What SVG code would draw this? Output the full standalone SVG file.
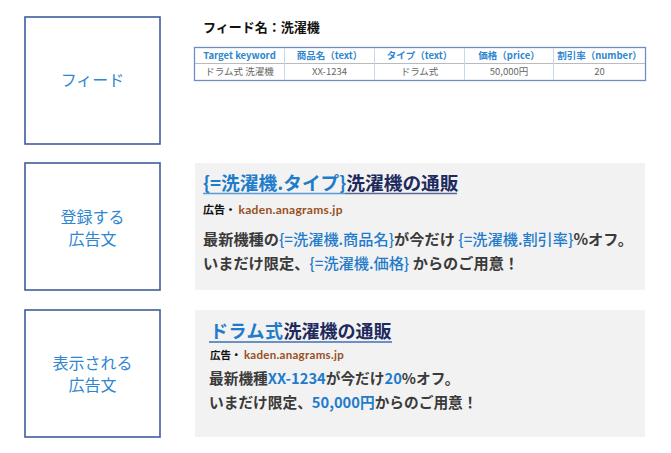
<svg xmlns="http://www.w3.org/2000/svg" width="671" height="453" viewBox="0 0 671 453">
<style>
.box{fill:#fff;stroke:#3F5E9E;stroke-width:1.6}
.lbl{font-family:"Noto Sans CJK JP","Noto Sans",sans-serif;font-size:16px;fill:#2E86D0;text-anchor:middle}
.panel{fill:#F2F2F2}
.jp{font-family:"Noto Sans CJK JP","Noto Sans",sans-serif;font-weight:bold}
.b{fill:#1F7CCB}
.n{fill:#1E2A5E}
.d{fill:#3A3A3A}
.k{fill:#111}
.br{fill:#96501E}
.th{font-family:"Noto Sans CJK JP","Noto Sans",sans-serif;font-size:9.5px;font-weight:bold;fill:#2E86D0;text-anchor:middle}
.td{font-family:"Noto Sans CJK JP","Noto Sans",sans-serif;font-size:9.5px;fill:#666;text-anchor:middle}
</style>
<rect width="671" height="453" fill="#fff"/>
<g id="node-feed">
<rect class="box" x="25" y="17" width="135" height="127"/>
<text class="lbl" x="92.5" y="86">フィード</text>
</g>
<g id="node-registered">
<rect class="box" x="25" y="163" width="135" height="127"/>
<text class="lbl" x="92.5" y="223">登録する</text>
<text class="lbl" x="92.5" y="245">広告文</text>
</g>
<g id="node-displayed">
<rect class="box" x="25" y="310" width="135" height="127"/>
<text class="lbl" x="92.5" y="369">表示される</text>
<text class="lbl" x="92.5" y="391">広告文</text>
</g>
<g id="feed-table">
<text class="jp k" x="203" y="32" font-size="13">フィード名：洗濯機</text>
<rect x="194.5" y="47.5" width="451" height="33" fill="#fff" stroke="#6F8CC8" stroke-width="1.3"/>
<line x1="195" y1="63.5" x2="645" y2="63.5" stroke="#BBBBBB" stroke-width="1.2"/>
<g stroke="#C9D6EF" stroke-width="1">
<line x1="284.5" y1="48" x2="284.5" y2="80"/>
<line x1="374.5" y1="48" x2="374.5" y2="80"/>
<line x1="464.5" y1="48" x2="464.5" y2="80"/>
<line x1="553.5" y1="48" x2="553.5" y2="80"/>
</g>
<text class="th" x="239.5" y="59">Target keyword</text>
<text class="th" x="329.5" y="59">商品名（text）</text>
<text class="th" x="419.5" y="59">タイプ（text）</text>
<text class="th" x="509" y="59">価格（price）</text>
<text class="th" x="599.5" y="59">割引率（number）</text>
<text class="td" x="239.5" y="75">ドラム式 洗濯機</text>
<text class="td" x="329.5" y="75">XX-1234</text>
<text class="td" x="419.5" y="75">ドラム式</text>
<text class="td" x="509" y="75">50,000円</text>
<text class="td" x="599.5" y="75">20</text>
</g>
<g id="ad-template">
<rect class="panel" x="195" y="163" width="450" height="127"/>
<text class="jp" x="203" y="190" font-size="18.7"><tspan class="b">{=洗濯機.タイプ}</tspan><tspan class="n">洗濯機の通販</tspan></text>
<line x1="203" y1="193.5" x2="345" y2="193.5" stroke="#5B9BD5" stroke-width="1.5"/>
<line x1="345" y1="193.5" x2="457" y2="193.5" stroke="#5A6A96" stroke-width="1.5"/>
<text class="jp" x="203" y="214" font-size="11"><tspan class="k">広告・ </tspan><tspan class="br" font-family="Lato,'Noto Sans',sans-serif" font-size="12" letter-spacing="0.3">kaden.anagrams.jp</tspan></text>
<text class="jp d" x="203" y="245" font-size="15.2">最新機種の<tspan class="b" font-weight="500">{=洗濯機.商品名}</tspan>が今だけ <tspan class="b" font-weight="500">{=洗濯機.割引率}</tspan>%オフ。</text>
<text class="jp d" x="203" y="269" font-size="15.2">いまだけ限定、<tspan class="b" font-weight="500">{=洗濯機.価格}</tspan> からのご用意！</text>
</g>
<g id="ad-displayed">
<rect class="panel" x="195" y="310" width="450" height="127"/>
<text class="jp" x="210" y="338" font-size="18"><tspan class="b" letter-spacing="0.5">ドラム式</tspan><tspan class="n">洗濯機の通販</tspan></text>
<line x1="209" y1="342" x2="392" y2="342" stroke="#3D6FB8" stroke-width="1.5"/>
<text class="jp" x="210" y="359" font-size="10.5"><tspan class="k">広告・ </tspan><tspan class="br" font-family="Lato,'Noto Sans',sans-serif" font-size="11.5" letter-spacing="0.3">kaden.anagrams.jp</tspan></text>
<text class="jp d" x="209" y="384" font-size="14.7">最新機種<tspan class="b">XX-1234</tspan>が今だけ<tspan class="b">20</tspan>%オフ。</text>
<text class="jp d" x="209" y="408" font-size="14.7">いまだけ限定、<tspan class="b">50,000円</tspan>からのご用意！</text>
</g>
</svg>
